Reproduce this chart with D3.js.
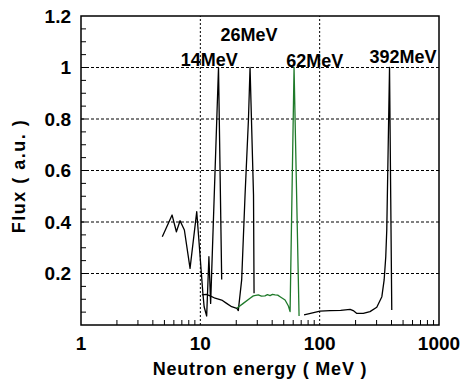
<!DOCTYPE html>
<html>
<head>
<meta charset="utf-8">
<script src="https://cdn.jsdelivr.net/npm/d3@7"></script>
<style>
  body { margin: 0; background: #fff; }
  text { font-family: "Liberation Sans", Arial, sans-serif; font-weight: bold; fill: #000; }
</style>
</head>
<body>
<div id="chart"></div>
<script>
// Spectrum readings, energy in MeV and flux in a.u.
var lowE    = [4.8, 5.8, 6.3, 6.76, 7.35, 8.2, 9.33, 10.5, 10.76, 11.3, 11.8, 12.2, 14.2, 15.1];
var lowFlux = [0.343, 0.427, 0.362, 0.405, 0.369, 0.22, 0.44, 0.124, 0.071, 0.035, 0.265, 0.084, 1.0, 0.177];

var e26    = [10.3, 11.2, 12.1, 13.3, 15.1, 16.6, 18.3, 20.2, 20.8, 22.2, 23.7, 25.3, 26.1, 27.9, 28.2];
var flux26 = [0.117, 0.119, 0.113, 0.104, 0.097, 0.084, 0.071, 0.065, 0.056, 0.175, 0.505, 0.797, 1.0, 0.505, 0.123];

var e62    = [20.2, 22.9, 26.1, 27.8, 30.6, 32.5, 34.8, 36.5, 38.4, 40.2, 42.3, 44.5, 46.6, 51.3, 54.7, 56.5, 61, 67.2];
var flux62 = [0.065, 0.084, 0.104, 0.113, 0.117, 0.112, 0.113, 0.118, 0.114, 0.119, 0.117, 0.116, 0.110, 0.097, 0.074, 0.052, 1.0, 0.035];

var e392    = [74, 100.7, 122, 150, 180, 191, 205, 232, 264, 301, 332, 347, 358, 365, 385, 394, 402];
var flux392 = [0.039, 0.054, 0.056, 0.057, 0.061, 0.056, 0.045, 0.045, 0.052, 0.069, 0.110, 0.175, 0.265, 0.369, 1.0, 0.492, 0.058];

var peakLabels = ['14MeV', '26MeV', '62MeV', '392MeV'];
var labelE     = [11.9, 25.6, 91, 500];
var labelFlux  = [1.006, 1.103, 1.002, 1.016];

var xTicks = [1, 10, 100, 1000];
var yTicks = [0.2, 0.4, 0.6, 0.8, 1, 1.2];

const width = 461, height = 381;
const margin = {top: 16, right: 22, bottom: 56, left: 81};

var svg = d3.select('#chart').append('svg')
    .attr('width', width)
    .attr('height', height);

var x = d3.scaleLog().domain([1, 1000]).range([margin.left, width - margin.right]);
var y = d3.scaleLinear().domain([0, 1.2]).range([height - margin.bottom, margin.top]);

// grid lines
svg.append('g').selectAll('line')
   .data([0.2, 0.4, 0.6, 0.8, 1])
   .enter().append('line')
   .attr('x1', x(1)).attr('x2', x(1000))
   .attr('y1', d => y(d)).attr('y2', d => y(d))
   .attr('stroke', '#000').attr('stroke-width', 1)
   .attr('stroke-dasharray', '3,2');

svg.append('g').selectAll('line')
   .data([10, 100])
   .enter().append('line')
   .attr('x1', d => x(d)).attr('x2', d => x(d))
   .attr('y1', y(0)).attr('y2', y(1.2))
   .attr('stroke', '#000').attr('stroke-width', 1)
   .attr('stroke-dasharray', '2,2');

// minor ticks, pointing inward
var yMinor = d3.range(1, 24).map(i => i * 0.05);
svg.append('g').selectAll('line')
   .data(yMinor)
   .enter().append('line')
   .attr('x1', x(1)).attr('x2', x(1) + 5)
   .attr('y1', d => y(d)).attr('y2', d => y(d))
   .attr('stroke', '#000').attr('stroke-width', 1);

var xMinor = [];
[1, 10, 100].forEach(dec => { for (let m = 2; m <= 9; m++) xMinor.push(dec * m); });
svg.append('g').selectAll('line')
   .data(xMinor)
   .enter().append('line')
   .attr('x1', d => x(d)).attr('x2', d => x(d))
   .attr('y1', y(0)).attr('y2', y(0) - 5)
   .attr('stroke', '#000').attr('stroke-width', 1);

// curves
var line = d3.line().x(d => x(d[0])).y(d => y(d[1]));
function series(es, fs) { return es.map((e, i) => [e, fs[i]]); }

var curves = [
    {pts: series(lowE, lowFlux), color: '#000'},
    {pts: series(e26, flux26), color: '#000'},
    {pts: series(e392, flux392), color: '#000'},
    {pts: series(e62, flux62), color: '#1f7a2a'}
];
svg.append('g').selectAll('path')
   .data(curves)
   .enter().append('path')
   .attr('d', d => line(d.pts))
   .attr('fill', 'none')
   .attr('stroke', d => d.color)
   .attr('stroke-width', 1.3)
   .attr('stroke-linejoin', 'round');

// frame
svg.append('rect')
   .attr('x', x(1)).attr('y', y(1.2))
   .attr('width', x(1000) - x(1)).attr('height', y(0) - y(1.2))
   .attr('fill', 'none').attr('stroke', '#000').attr('stroke-width', 1.5);

// tick labels
svg.append('g').selectAll('text')
   .data(yTicks)
   .enter().append('text')
   .attr('x', x(1) - 10).attr('y', d => y(d)).attr('dy', '0.36em')
   .attr('text-anchor', 'end')
   .style('font-size', '19px')
   .text(d => d3.format('')(d));

svg.append('g').selectAll('text')
   .data(xTicks)
   .enter().append('text')
   .attr('x', d => x(d)).attr('y', y(0) + 25)
   .attr('text-anchor', 'middle')
   .style('font-size', '19px')
   .text(d => d);

// peak labels
svg.append('g').selectAll('text')
   .data(peakLabels)
   .enter().append('text')
   .attr('x', (d, i) => x(labelE[i])).attr('y', (d, i) => y(labelFlux[i]))
   .attr('text-anchor', 'middle')
   .style('font-size', '18px')
   .text(d => d);

// axis titles
svg.append('text')
   .attr('x', (x(1) + x(1000)) / 2).attr('y', 375)
   .attr('text-anchor', 'middle')
   .style('font-size', '18px')
   .style('letter-spacing', '0.8px')
   .text('Neutron energy ( MeV )');

svg.append('text')
   .attr('transform', 'translate(25,176) rotate(-90)')
   .attr('text-anchor', 'middle')
   .style('font-size', '18px')
   .style('letter-spacing', '1.5px')
   .text('Flux ( a.u. )');
</script>
</body>
</html>
